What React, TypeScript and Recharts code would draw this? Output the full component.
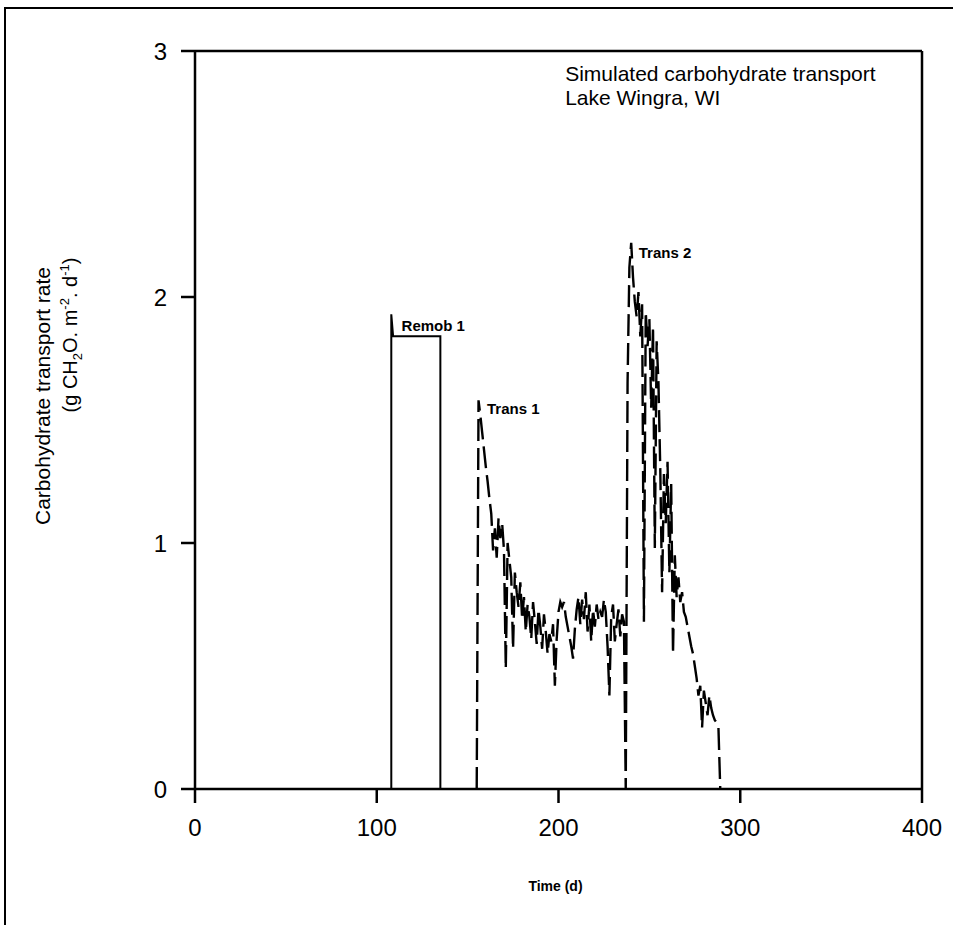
import React from "react";
import { LineChart, Line, XAxis, YAxis, ReferenceLine, ReferenceDot, Label } from "recharts";

// Remob 1: remobilisation pulse (solid)
const remobDays = [108, 108, 109, 135, 135];
const remobRates = [0, 1.93, 1.84, 1.84, 0];

// Trans 1 (dashed)
const trans1Days = [
  155, 156, 157, 158, 159, 160, 161, 162, 163, 164, 165, 166, 167, 168, 169, 170,
  171, 172, 173, 174, 175, 176, 177, 178, 179, 180, 181, 182, 183, 184, 185, 186,
  187, 188, 189, 190, 191, 192, 193, 194, 195, 196, 197, 198, 199, 200, 201, 202,
  203, 204, 205, 206, 207, 208, 209, 210, 211, 212, 213, 214, 215, 216, 217, 218,
  219, 220, 221, 222, 223, 224, 225, 226, 227, 228, 229, 230, 231, 232, 233, 234,
  235, 236, 237,
];
const trans1Rates = [
  0, 1.58, 1.52, 1.45, 1.38, 1.31, 1.25, 1.18, 1.12, 0.97, 1.06, 0.94, 1.1, 1.02, 1.08, 0.97,
  0.49, 1.0, 0.93, 0.86, 0.57, 0.88, 0.8, 0.74, 0.84, 0.69, 0.78, 0.64, 0.75, 0.7, 0.61, 0.76,
  0.68, 0.59, 0.73, 0.66, 0.57, 0.71, 0.64, 0.55, 0.63, 0.6, 0.67, 0.42, 0.61, 0.72, 0.76, 0.74,
  0.76, 0.7, 0.66, 0.62, 0.58, 0.53, 0.65, 0.73, 0.78, 0.67, 0.77, 0.69, 0.8, 0.64, 0.75, 0.6,
  0.73, 0.66, 0.75, 0.69, 0.72, 0.7, 0.77, 0.72, 0.58, 0.38, 0.7, 0.75, 0.6, 0.67, 0.73, 0.62,
  0.71, 0.68, 0,
];

// Trans 2 (dashed)
const trans2Days = [
  238, 239, 240, 241, 242, 243, 244, 245, 246, 247, 248, 249, 250, 251, 252, 253,
  254, 255, 256, 257, 258, 259, 260, 261, 262, 263, 264, 265, 266, 267, 268, 269,
  270, 271, 272, 273, 274, 275, 276, 277, 278, 279, 280, 281, 282, 283, 284, 285,
  286, 287, 288, 289,
];
const trans2Rates = [
  1.65, 2.12, 2.22, 2.08, 1.98, 1.92, 2.02, 1.84, 1.97, 0.68, 1.94, 1.8, 1.91, 1.55, 1.88, 0.98,
  1.82, 1.65, 1.3, 0.8, 1.28, 1.08, 1.33, 0.88, 1.24, 0.55, 0.95, 0.78, 0.86, 0.76, 0.8, 0.72,
  0.7, 0.66, 0.62, 0.58, 0.55, 0.5, 0.45, 0.38, 0.42, 0.25, 0.4, 0.35, 0.3, 0.38, 0.33, 0.3,
  0.28, 0.27, 0.25, 0,
];

const xTicks = [0, 100, 200, 300, 400];
const yTicks = [0, 1, 2, 3];

const noteTexts = ["Remob 1", "Trans 1", "Trans 2"];
const noteDays = [112, 159, 242.5];
const noteRates = [1.885, 1.547, 2.18];

const titleLines = ["Simulated carbohydrate transport", "Lake Wingra, WI"];
const titleDays = [202, 202];
const titleRates = [2.91, 2.81];

const FONT = "'Liberation Sans', Arial, Helvetica, sans-serif";

const remobData = remobDays.map((d, i) => ({ day: d, rate: remobRates[i] }));
const transData = [...trans1Days, ...trans2Days].map((d, i) => ({
  day: d,
  rate: [...trans1Rates, ...trans2Rates][i],
}));

function YTitle() {
  return (
    <g fontFamily={FONT} fill="#000">
      <text x={50} y={396} transform="rotate(-90, 50, 396)" textAnchor="middle" fontSize={21}>
        Carbohydrate transport rate
      </text>
      <text x={77} y={335} transform="rotate(-90, 77, 335)" textAnchor="middle" fontSize={20}>
        <tspan>(g CH</tspan>
        <tspan dy={5} fontSize={13}>2</tspan>
        <tspan dy={-5}>O. m</tspan>
        <tspan dy={-8} fontSize={13}>-2</tspan>
        <tspan dy={8}>. d</tspan>
        <tspan dy={-8} fontSize={13}>-1</tspan>
        <tspan dy={8}>)</tspan>
      </text>
    </g>
  );
}

function XTitle(props: any) {
  const vb = props.viewBox || { x: 0, width: 0 };
  return (
    <text x={vb.x + vb.width / 2 - 3} y={891} textAnchor="middle" fontFamily={FONT} fontSize={14} fontWeight="bold" fill="#000">
      Time (d)
    </text>
  );
}

export default function App() {
  const tickStyle = { fontSize: 24, fill: "#000", fontFamily: FONT };
  return (
    <div style={{ position: "absolute", left: 0, top: 0, width: 953, height: 925, background: "#fff" }}>
      <div
        style={{
          position: "absolute",
          left: 4,
          top: 7,
          width: 960,
          height: 940,
          borderLeft: "2px solid #000",
          borderTop: "2px solid #000",
        }}
      />
      <LineChart
        width={953}
        height={925}
        margin={{ top: 51, right: 31, bottom: 96, left: 95 }}
        style={{ position: "absolute", left: 0, top: 0 }}
      >
        <XAxis
          dataKey="day"
          type="number"
          domain={[0, 400]}
          ticks={xTicks}
          height={40}
          tickSize={14}
          tickMargin={16}
          tick={tickStyle}
          stroke="#000"
          strokeWidth={2.5}
          allowDataOverflow
        >
          <Label content={<XTitle />} />
        </XAxis>
        <YAxis
          type="number"
          domain={[0, 3]}
          ticks={yTicks}
          width={100}
          tickSize={14}
          tickMargin={14}
          tick={tickStyle}
          stroke="#000"
          strokeWidth={2.5}
          allowDataOverflow
        >
          <Label content={<YTitle />} />
        </YAxis>
        <ReferenceLine y={3} stroke="#000" strokeWidth={2.5} />
        <ReferenceLine x={400} stroke="#000" strokeWidth={2.5} />
        <Line
          data={remobData}
          dataKey="rate"
          type="linear"
          stroke="#000"
          strokeWidth={2}
          dot={false}
          isAnimationActive={false}
        />
        <Line
          data={transData}
          dataKey="rate"
          type="linear"
          stroke="#000"
          strokeWidth={2.4}
          strokeDasharray="22 7"
          dot={false}
          isAnimationActive={false}
        />
        {noteTexts.map((t, i) => (
          <ReferenceDot
            key={t}
            x={noteDays[i]}
            y={noteRates[i]}
            r={0}
            fill="none"
            stroke="none"
            label={{ value: t, position: "right", offset: 3, fontSize: 15, fontWeight: "bold", fill: "#000", fontFamily: FONT }}
          />
        ))}
        {titleLines.map((t, i) => (
          <ReferenceDot
            key={t}
            x={titleDays[i]}
            y={titleRates[i]}
            r={0}
            fill="none"
            stroke="none"
            label={{ value: t, position: "right", offset: 3, fontSize: 21, fill: "#000", fontFamily: FONT }}
          />
        ))}
      </LineChart>
    </div>
  );
}
